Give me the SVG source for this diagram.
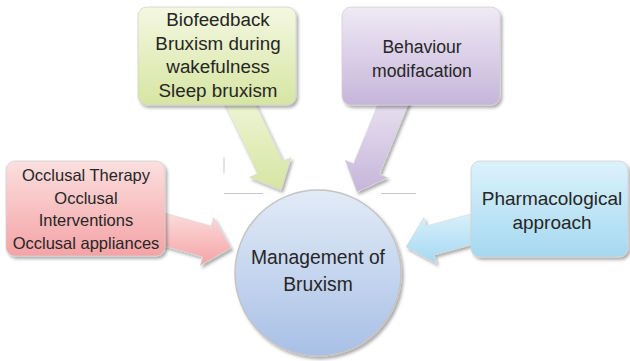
<svg xmlns="http://www.w3.org/2000/svg" width="630" height="361" viewBox="0 0 630 361">
<defs>
<filter id="sh" x="-20%" y="-20%" width="140%" height="140%">
<feDropShadow dx="2" dy="2.5" stdDeviation="1.6" flood-color="#000" flood-opacity="0.33"/>
</filter>
<linearGradient id="gRed" x1="0" y1="0" x2="0" y2="1"><stop offset="0" stop-color="#fcdfdf"/><stop offset="1" stop-color="#f4a3a6"/></linearGradient>
<linearGradient id="gGreen" x1="0" y1="0" x2="0" y2="1"><stop offset="0" stop-color="#f4f8e1"/><stop offset="1" stop-color="#d6e5a2"/></linearGradient>
<linearGradient id="gPurple" x1="0" y1="0" x2="0" y2="1"><stop offset="0" stop-color="#efeaf5"/><stop offset="1" stop-color="#c6b5da"/></linearGradient>
<linearGradient id="gBlue" x1="0" y1="0" x2="0" y2="1"><stop offset="0" stop-color="#dcf2fb"/><stop offset="1" stop-color="#a5d8f1"/></linearGradient>
<linearGradient id="gCircle" x1="0" y1="0" x2="0" y2="1"><stop offset="0" stop-color="#e2ebf7"/><stop offset="1" stop-color="#a8c0e6"/></linearGradient>
</defs>
<style>
.box{stroke:#d0d0d0;stroke-width:0.8;filter:url(#sh)}
.arr{stroke:#d8d8d8;stroke-width:0.6;filter:url(#sh)}
.t{font-family:"Liberation Sans",Arial,sans-serif;fill:#262626;text-anchor:middle}
.guide{stroke:#c8c8c8;stroke-width:1;fill:none}
</style>
<g id="guides">
<line class="guide" x1="224" y1="157" x2="224" y2="173"/>
<line class="guide" x1="224" y1="193.5" x2="263" y2="193.5"/>
<line class="guide" x1="381" y1="193.5" x2="416" y2="193.5"/>
</g>
<g id="connectors">
<polygon class="arr" fill="url(#gGreen)" points="218.9,92.1 257.6,173.4 249.5,177.3 281,190 291,157.5 282.9,161.4 244.1,80.1"/>
<polygon class="arr" fill="url(#gPurple)" points="387.75,80.33 353.55,163.58 345.23,160.16 357,192 387.78,177.64 379.45,174.22 413.65,90.97"/>
<polygon class="arr" fill="url(#gRed)" points="153.32,209.97 211.16,225.93 213.55,217.25 231,248 200.25,265.45 202.64,256.77 144.8,240.81"/>
<polygon class="arr" fill="url(#gBlue)" points="484.09,210.18 426.19,225.96 423.82,217.27 406,247 436.44,263.59 434.08,254.91 491.98,239.13"/>
</g>
<g id="management">
<circle cx="318" cy="273" r="83" fill="url(#gCircle)" stroke="#c4c4c4" stroke-width="1.5" filter="url(#sh)"/>
<text class="t" x="318" y="264" font-size="19.3">Management of</text>
<text class="t" x="318" y="291" font-size="19.3">Bruxism</text>
</g>
<g id="occlusal">
<rect class="box" x="6" y="161" width="159" height="95" rx="9" fill="url(#gRed)"/>
<text class="t" x="86" y="181" font-size="16.5">Occlusal Therapy</text>
<text class="t" x="86" y="203.5" font-size="16.5">Occlusal</text>
<text class="t" x="86" y="226" font-size="16.5">Interventions</text>
<text class="t" x="86" y="248.5" font-size="16.5">Occlusal appliances</text>
</g>
<g id="biofeedback">
<rect class="box" x="138" y="7" width="158" height="98" rx="9" fill="url(#gGreen)"/>
<text class="t" x="218" y="26" font-size="18.8">Biofeedback</text>
<text class="t" x="218" y="49.5" font-size="18.8">Bruxism during</text>
<text class="t" x="218" y="73" font-size="18.8">wakefulness</text>
<text class="t" x="218" y="96.5" font-size="18.8">Sleep bruxism</text>
</g>
<g id="behaviour">
<rect class="box" x="342" y="7" width="158" height="98" rx="9" fill="url(#gPurple)"/>
<text class="t" x="422" y="53" font-size="17.6">Behaviour</text>
<text class="t" x="422" y="76.5" font-size="17.6">modifacation</text>
</g>
<g id="pharmacological">
<rect class="box" x="471" y="161" width="157" height="96" rx="9" fill="url(#gBlue)"/>
<text class="t" x="552" y="205" font-size="19">Pharmacological</text>
<text class="t" x="552" y="228.5" font-size="19">approach</text>
</g>
</svg>
